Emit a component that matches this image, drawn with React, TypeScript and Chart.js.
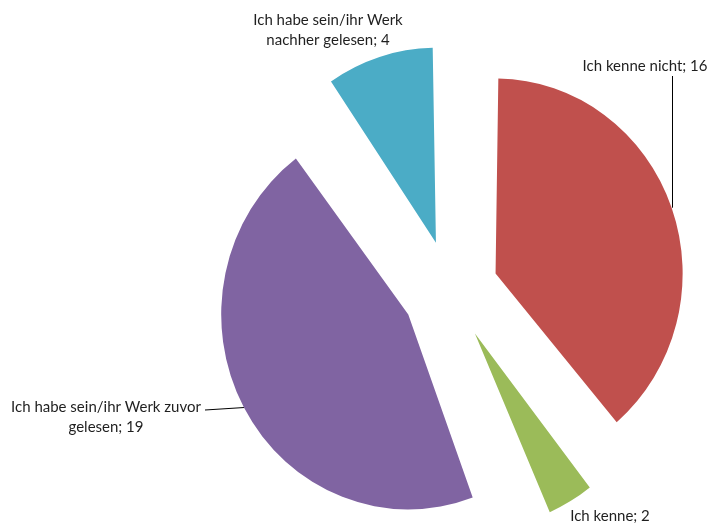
import { useEffect, useRef } from "react";
import { Chart, registerables } from "chart.js";

Chart.register(...registerables);

// ---- data ----
const categories = [
  "Ich kenne nicht",
  "Ich kenne",
  "Ich habe sein/ihr Werk zuvor gelesen",
  "Ich habe sein/ihr Werk nachher gelesen",
];
const counts = [16, 2, 19, 4];
const colors = ["#C0504D", "#9BBB59", "#8064A2", "#4BACC6"];

// ---- layout ----
// The reference pie is slightly squeezed horizontally (elliptical);
// the slices are drawn with a horizontal scale of SX.
const SX = 708 / 738;
const RADIUS = 195;
const OFFSET = 200; // Chart.js translates arcs by offset / 4 -> 50px
const FONT = "15px Lato, 'Liberation Sans', sans-serif";
const LINE_H = 20;
const labelLayout = [
  { x: 645, y: 66, wrap: 205, leader: { vertical: true, toY: 76 } },
  { x: 610, y: 516, wrap: 205, leader: null },
  { x: 106, y: 407, wrap: 200, leader: { vertical: false, toX: 205, toY: 410 } },
  { x: 328, y: 20, wrap: 165, leader: null },
];

function wrapText(ctx: CanvasRenderingContext2D, text: string, maxW: number) {
  const words = text.split(" ");
  const lines: string[] = [];
  let cur = "";
  for (const w of words) {
    const t = cur ? cur + " " + w : w;
    if (ctx.measureText(t).width > maxW && cur) {
      lines.push(cur);
      cur = w;
    } else cur = t;
  }
  if (cur) lines.push(cur);
  return lines;
}

const piePlugin = {
  id: "pieLabels",
  afterDatasetsUpdate(chart: any) {
    const meta = chart.getDatasetMeta(0);
    meta.data.forEach((arc: any) => {
      const circ = arc.endAngle - arc.startAngle;
      const fix = 1 - Math.sin(Math.min(Math.PI, circ));
      arc.outerRadius = RADIUS - (OFFSET / 4) * fix;
    });
  },
  beforeDatasetsDraw(chart: any) {
    chart.ctx.save();
    chart.ctx.scale(SX, 1);
  },
  afterDatasetsDraw(chart: any) {
    const ctx: CanvasRenderingContext2D = chart.ctx;
    ctx.restore();
    const meta = chart.getDatasetMeta(0);
    ctx.save();
    ctx.font = FONT;
    ctx.fillStyle = "#1f1f1f";
    ctx.strokeStyle = "#000000";
    ctx.lineWidth = 1;
    ctx.textAlign = "center";
    ctx.textBaseline = "middle";
    meta.data.forEach((arc: any, i: number) => {
      const mid = (arc.startAngle + arc.endAngle) / 2;
      const cx = arc.x + Math.cos(mid) * (OFFSET / 4);
      const cy = arc.y + Math.sin(mid) * (OFFSET / 4);
      const ex = (cx + Math.cos(mid) * RADIUS) * SX;
      const ey = cy + Math.sin(mid) * RADIUS;
      const L = labelLayout[i];
      if (L.leader) {
        ctx.beginPath();
        if (L.leader.vertical) {
          const lx = Math.round(ex) + 0.5;
          ctx.moveTo(lx, ey);
          ctx.lineTo(lx, L.leader.toY);
        } else {
          ctx.moveTo(ex, ey);
          ctx.lineTo(L.leader.toX as number, L.leader.toY);
        }
        ctx.stroke();
      }
      const text = `${categories[i]}; ${counts[i]}`;
      const lines = wrapText(ctx, text, L.wrap);
      lines.forEach((ln, k) => ctx.fillText(ln, L.x, L.y + k * LINE_H));
    });
    ctx.restore();
  },
};

export default function App() {
  const ref = useRef<HTMLCanvasElement>(null);
  useEffect(() => {
    if (!ref.current) return;
    const chart = new Chart(ref.current, {
      type: "pie",
      data: {
        labels: categories,
        datasets: [
          {
            data: counts,
            backgroundColor: colors,
            borderWidth: 0,
            offset: OFFSET,
            hoverOffset: OFFSET,
          },
        ],
      },
      options: {
        responsive: false,
        animation: false,
        devicePixelRatio: 1,
        radius: RADIUS,
        rotation: 0,
        layout: { padding: { left: 240, right: 9, top: 62, bottom: 6 } },
        plugins: {
          legend: { display: false },
          tooltip: { enabled: false },
        },
        events: [],
      } as any,
      plugins: [piePlugin],
    });
    return () => chart.destroy();
  }, []);
  return (
    <div style={{ position: "absolute", left: 0, top: 0, width: 708, height: 525, background: "#fff" }}>
      <canvas ref={ref} width={708} height={525} style={{ display: "block" }} />
    </div>
  );
}
